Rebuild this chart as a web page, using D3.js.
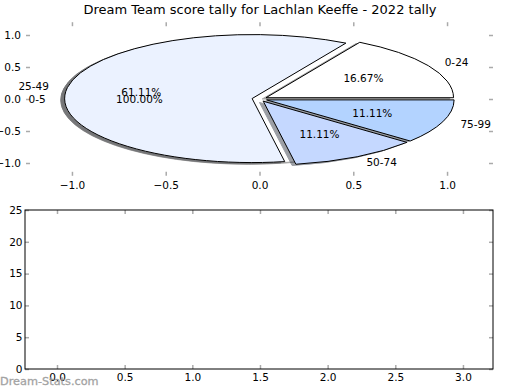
<!DOCTYPE html>
<html>
<head>
<meta charset="utf-8">
<script src="https://cdn.jsdelivr.net/npm/d3@7"></script>
<style>
  body { margin: 0; background: #fff; }
  svg { display: block; font-family: "DejaVu Sans", sans-serif; }
</style>
</head>
<body>
<div id="chart"></div>
<script>
// Score bands and how many games fell in each
const bands = ["0-24", "25-49", "50-74", "75-99"];
const counts = [3, 11, 2, 2];
const bandColors = ["#ffffff", "#ebf2ff", "#c5d8ff", "#b3d3ff"];

// Second (background) pie
const baseBands = ["0-5"];
const baseCounts = [1];
const baseColors = ["#ffffff"];

// Axis ticks
const pieTicks = [-1.0, -0.5, 0.0, 0.5, 1.0];
const barXTicks = [0.0, 0.5, 1.0, 1.5, 2.0, 2.5, 3.0];
const barYTicks = [0, 5, 10, 15, 20, 25];

const title = "Dream Team score tally for Lachlan Keeffe - 2022 tally";
const watermark = "Dream-Stats.com";

const width = 520;
const height = 390;
const explode = 0.04;
const labelDistance = 1.1;
const pctDistance = 0.6;
const shadowOffset = -0.02;
const fontSize = 10.5;

const svg = d3.select("#chart")
    .append("svg")
    .attr("width", width)
    .attr("height", height);

// Title
svg.append("text")
    .attr("x", 260)
    .attr("y", 14)
    .attr("text-anchor", "middle")
    .attr("font-size", 13)
    .text(title);

// ---------- top axes: pie ----------
const pie = {left: 26, right: 493, top: 22.2, bottom: 175.8};
const px = d3.scaleLinear().domain([-1.245, 1.245]).range([pie.left, pie.right]);
const py = d3.scaleLinear().domain([-1.2, 1.2]).range([pie.bottom, pie.top]);
const kx = px(1) - px(0);
const ky = py(0) - py(1);

// Function to add inward grey ticks on all four sides
function addTicks(g, xs, ys, box, xTicks, yTicks, xFmt, yFmt, padX, padY) {
    const tickColor = "#aaa";
    const style = sel => {
        sel.select(".domain").remove();
        sel.selectAll(".tick line").attr("stroke", tickColor).attr("stroke-width", 1.5);
        sel.selectAll(".tick text").attr("fill", "#000").attr("font-size", fontSize)
            .attr("font-family", "DejaVu Sans, sans-serif");
    };
    g.append("g").attr("transform", `translate(0,${box.bottom})`)
        .call(d3.axisBottom(xs).tickValues(xTicks).tickFormat(xFmt).tickSize(-4).tickPadding(padX))
        .call(style);
    g.append("g").attr("transform", `translate(0,${box.top})`)
        .call(d3.axisTop(xs).tickValues(xTicks).tickFormat("").tickSize(-4))
        .call(style);
    g.append("g").attr("transform", `translate(${box.left},0)`)
        .call(d3.axisLeft(ys).tickValues(yTicks).tickFormat(yFmt).tickSize(-4).tickPadding(padY))
        .call(style);
    g.append("g").attr("transform", `translate(${box.right},0)`)
        .call(d3.axisRight(ys).tickValues(yTicks).tickFormat("").tickSize(-4))
        .call(style);
}

addTicks(svg.append("g"), px, py, pie, pieTicks, pieTicks,
    d3.format(".1f"), d3.format(".1f"), 5.5, 5);

// Build wedges in matplotlib convention (counter-clockwise from 3 o'clock)
function makeWedges(values, names, colors) {
    const total = d3.sum(values);
    const fracs = d3.pie().sort(null).value(d => d)(values);
    return fracs.map((p, i) => {
        const t1 = p.startAngle;
        const t2 = p.endAngle;
        const tm = (t1 + t2) / 2;
        return {
            name: names[i],
            color: colors[i],
            pct: values[i] / total * 100,
            t1: t1, t2: t2, tm: tm,
            cx: explode * Math.cos(tm),
            cy: explode * Math.sin(tm)
        };
    });
}

const arc = d3.arc()
    .innerRadius(0)
    .outerRadius(1)
    .startAngle(d => Math.PI / 2 - d.t2)
    .endAngle(d => Math.PI / 2 - d.t1);

function darker(c) {
    const rgb = d3.rgb(c);
    return d3.rgb(rgb.r * 0.3, rgb.g * 0.3, rgb.b * 0.3).formatHex();
}

function drawShadows(g, wedges) {
    g.selectAll(null)
        .data(wedges)
        .enter().append("path")
        .attr("transform", d => `translate(${px(d.cx + shadowOffset)},${py(d.cy + shadowOffset)}) scale(${kx},${ky})`)
        .attr("d", arc)
        .attr("fill", d => darker(d.color))
        .attr("stroke", d => darker(d.color))
        .attr("stroke-width", 1)
        .attr("vector-effect", "non-scaling-stroke")
        .attr("opacity", 0.5);
}

function drawWedges(g, wedges, strokeColor) {
    g.selectAll(null)
        .data(wedges)
        .enter().append("path")
        .attr("transform", d => `translate(${px(d.cx)},${py(d.cy)}) scale(${kx},${ky})`)
        .attr("d", arc)
        .attr("fill", d => d.color)
        .attr("stroke", strokeColor)
        .attr("stroke-width", 1)
        .attr("vector-effect", "non-scaling-stroke");
}

function drawLabels(g, wedges) {
    // Band names outside the pie
    g.selectAll(null)
        .data(wedges)
        .enter().append("text")
        .attr("x", d => px(d.cx + labelDistance * Math.cos(d.tm)))
        .attr("y", d => py(d.cy + labelDistance * Math.sin(d.tm)))
        .attr("dy", "0.35em")
        .attr("text-anchor", d => Math.cos(d.tm) > 0 ? "start" : "end")
        .attr("font-size", fontSize)
        .text(d => d.name);
    // Percentages inside
    g.selectAll(null)
        .data(wedges)
        .enter().append("text")
        .attr("x", d => px(d.cx + pctDistance * Math.cos(d.tm)))
        .attr("y", d => py(d.cy + pctDistance * Math.sin(d.tm)))
        .attr("dy", "0.35em")
        .attr("text-anchor", "middle")
        .attr("font-size", fontSize)
        .text(d => d.pct.toFixed(2) + "%");
}

const baseWedges = makeWedges(baseCounts, baseBands, baseColors);
const mainWedges = makeWedges(counts, bands, bandColors);

const pieG = svg.append("g");
drawShadows(pieG, baseWedges);
drawWedges(pieG, baseWedges, "none");
drawShadows(pieG, mainWedges);
drawWedges(pieG, mainWedges, "#000");
drawLabels(pieG, baseWedges);
drawLabels(pieG, mainWedges);

// ---------- bottom axes: empty ----------
const bar = {left: 25, right: 493, top: 210, bottom: 369};
const bx = d3.scaleLinear().domain([-0.2365, 3.222]).range([bar.left, bar.right]);
const by = d3.scaleLinear().domain([0, 25]).range([bar.bottom, bar.top]);

const barG = svg.append("g");
addTicks(barG, bx, by, bar, barXTicks, barYTicks,
    d3.format(".1f"), d3.format("d"), 5, 2.5);

barG.append("rect")
    .attr("x", bar.left)
    .attr("y", bar.top)
    .attr("width", bar.right - bar.left)
    .attr("height", bar.bottom - bar.top)
    .attr("fill", "none")
    .attr("stroke", "#000")
    .attr("stroke-width", 1);

// Watermark
svg.append("text")
    .attr("x", 0)
    .attr("y", 385)
    .attr("font-size", 11.3)
    .attr("fill", "#999")
    .attr("stroke", "#999")
    .attr("stroke-width", 0.3)
    .attr("opacity", 0.9)
    .text(watermark);
</script>
</body>
</html>
